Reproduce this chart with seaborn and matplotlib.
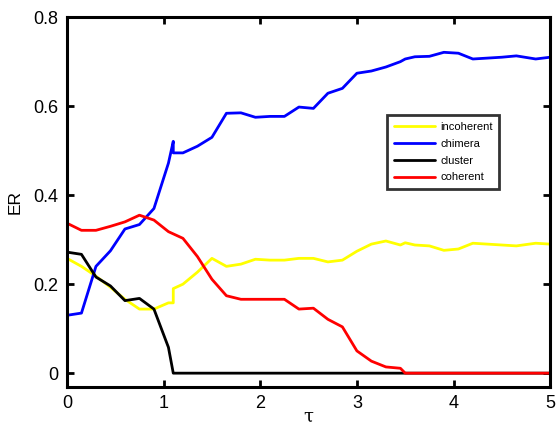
import matplotlib
matplotlib.use("Agg")
import matplotlib.pyplot as plt
import seaborn as sns
import pandas as pd

# Coupling delay values
tau = [0, 0.15, 0.3, 0.45, 0.6, 0.75, 0.9, 1.05, 1.1, 1.1,
       1.2, 1.35, 1.5, 1.65, 1.8, 1.95, 2.1, 2.25, 2.4, 2.55,
       2.7, 2.85, 3.0, 3.15, 3.3, 3.45, 3.5, 3.6, 3.75, 3.9,
       4.05, 4.2, 4.35, 4.5, 4.65, 4.85, 5.0]

# ER for each dynamical regime
incoherent = [0.258, 0.240, 0.218, 0.193, 0.166, 0.144, 0.144, 0.158, 0.158, 0.190,
              0.200, 0.227, 0.258, 0.240, 0.245, 0.256, 0.254, 0.254, 0.258, 0.258,
              0.250, 0.254, 0.274, 0.290, 0.297, 0.288, 0.293, 0.288, 0.286, 0.276,
              0.279, 0.292, 0.290, 0.288, 0.286, 0.292, 0.290]
chimera = [0.130, 0.135, 0.240, 0.275, 0.324, 0.334, 0.370, 0.472, 0.521, 0.495,
           0.495, 0.510, 0.530, 0.584, 0.585, 0.575, 0.577, 0.577, 0.598, 0.595,
           0.629, 0.640, 0.674, 0.679, 0.688, 0.700, 0.706, 0.711, 0.712, 0.721,
           0.719, 0.706, 0.708, 0.710, 0.713, 0.706, 0.710]
cluster = [0.272, 0.267, 0.216, 0.196, 0.163, 0.168, 0.144, 0.058, 0.0, 0.0,
           0.0, 0.0, 0.0, 0.0, 0.0, 0.0, 0.0, 0.0, 0.0, 0.0,
           0.0, 0.0, 0.0, 0.0, 0.0, 0.0, 0.0, 0.0, 0.0, 0.0,
           0.0, 0.0, 0.0, 0.0, 0.0, 0.0, 0.0]
coherent = [0.337, 0.321, 0.321, 0.330, 0.340, 0.355, 0.344, 0.318, 0.313, 0.313,
            0.303, 0.262, 0.211, 0.174, 0.166, 0.166, 0.166, 0.166, 0.144, 0.146,
            0.121, 0.104, 0.050, 0.027, 0.014, 0.011, 0.0, 0.0, 0.0, 0.0,
            0.0, 0.0, 0.0, 0.0, 0.0, 0.0, 0.0]

states = ["incoherent", "chimera", "cluster", "coherent"]
colors = ["#ffff00", "#0000ff", "#000000", "#ff0000"]

frames = []
for name, vals in zip(states, [incoherent, chimera, cluster, coherent]):
    frames.append(pd.DataFrame({"tau": tau, "ER": vals, "state": name}))
df = pd.concat(frames, ignore_index=True)

sns.set_style("ticks")
plt.rcParams["font.family"] = ["Liberation Sans", "DejaVu Sans"]
for key in ["text.color", "axes.labelcolor", "xtick.color", "ytick.color"]:
    plt.rcParams[key] = "black"

fig = plt.figure(figsize=(5.58, 4.29), dpi=100)
ax = fig.add_axes([0.120, 0.098, 0.866, 0.862])

sns.lineplot(data=df, x="tau", y="ER", hue="state", hue_order=states,
             palette=colors, estimator=None, units="state", sort=False,
             linewidth=2.0, ax=ax)

ax.set_xlim(0, 5)
ax.set_ylim(-0.031, 0.8)
ax.set_xticks([0, 1, 2, 3, 4, 5])
ax.set_yticks([0, 0.2, 0.4, 0.6, 0.8])
ax.set_xticklabels(["0", "1", "2", "3", "4", "5"])
ax.set_yticklabels(["0", "0.2", "0.4", "0.6", "0.8"])
ax.tick_params(direction="in", length=5, width=2, labelsize=13,
               top=True, right=True, pad=6, colors="black")
for sp in ax.spines.values():
    sp.set_visible(True)
    sp.set_linewidth(2.2)
    sp.set_color("black")

ax.set_xlabel("τ", fontsize=13, family=["DejaVu Serif"], labelpad=-3)
ax.set_ylabel("ER", fontsize=12.5, labelpad=8)

leg = ax.legend(loc="upper left", bbox_to_anchor=(0.663, 0.735),
                fontsize=8, handlelength=3.7, handletextpad=0.45,
                labelspacing=0.62, borderpad=0.6, borderaxespad=0,
                frameon=True, fancybox=False)
leg.get_frame().set_edgecolor("black")
leg.get_frame().set_linewidth(2.0)
for line in leg.get_lines():
    line.set_linewidth(2.0)

fig.savefig("out.png", dpi=100)
